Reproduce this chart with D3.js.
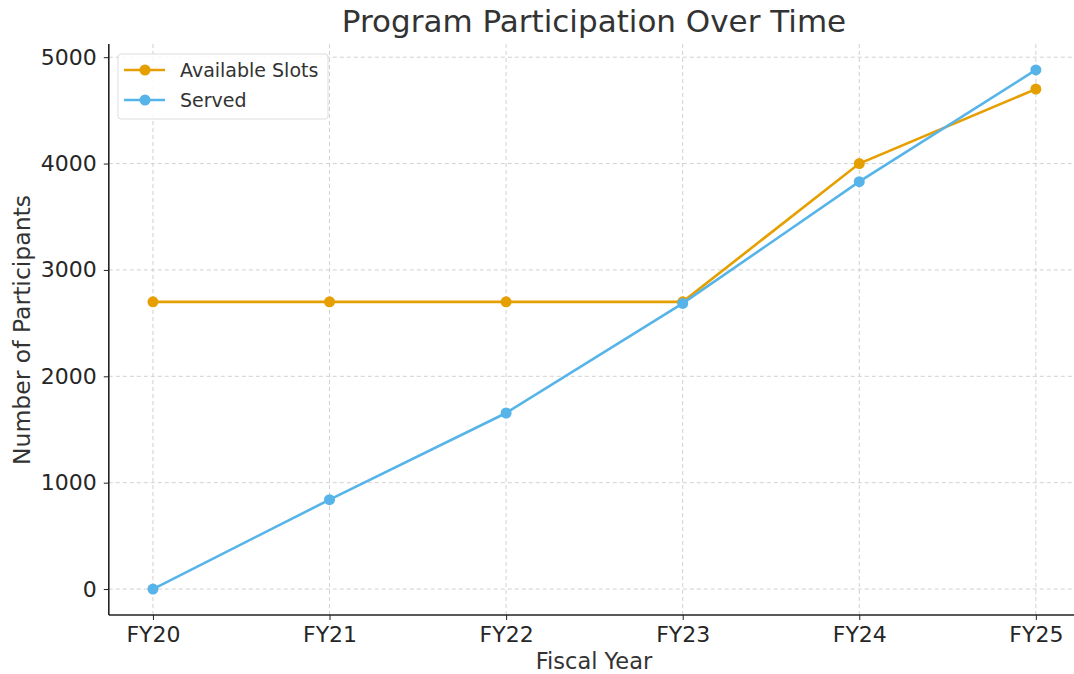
<!DOCTYPE html>
<html><head><meta charset="utf-8">
<script src="https://cdn.jsdelivr.net/npm/d3@7/dist/d3.min.js"></script>
<style>body{margin:0;background:#fff;}svg{display:block;font-family:"DejaVu Sans",sans-serif;}</style>
</head><body>
<script>
const categories = ["FY20","FY21","FY22","FY23","FY24","FY25"];
const availableSlots = [2700,2700,2700,2700,4000,4700];
const served = [0,840,1655,2685,3830,4880];
const yTicks = [0,1000,2000,3000,4000,5000];
const seriesNames = ["Available Slots","Served"];
const colors = ["#E69F00","#56B4E9"];

const W=1074,H=674;
const svg=d3.select("body").append("svg").attr("width",W).attr("height",H);
const pLeft=108.8, pRight=1080, pTop=44, pBottom=615;
const x=d3.scaleLinear().domain([-0.25,5.25]).range([pLeft,pRight]);
const y=d3.scaleLinear().domain([-244,5124]).range([pBottom,pTop]);
const txt="#333";

// grid
const g=svg.append("g");
g.selectAll(".gx").data(categories).join("line")
 .attr("x1",(d,i)=>x(i)).attr("x2",(d,i)=>x(i)).attr("y1",pTop).attr("y2",pBottom)
 .attr("stroke","#cccccc").attr("stroke-dasharray","4,3").attr("stroke-width",0.9);
g.selectAll(".gy").data(yTicks).join("line")
 .attr("x1",pLeft).attr("x2",pRight).attr("y1",d=>y(d)).attr("y2",d=>y(d))
 .attr("stroke","#cccccc").attr("stroke-dasharray","4,3").attr("stroke-width",0.9);

// axes
const xAxis=d3.axisBottom(x).tickValues(d3.range(categories.length)).tickFormat(i=>categories[i]).tickSize(5).tickPadding(6);
const yAxis=d3.axisLeft(y).tickValues(yTicks).tickFormat(d3.format("d")).tickSize(5).tickPadding(7);
const xa=svg.append("g").attr("transform",`translate(0,${pBottom})`).call(xAxis);
const ya=svg.append("g").attr("transform",`translate(${pLeft},0)`).call(yAxis);
[xa,ya].forEach(a=>{
  a.attr("font-family",null).attr("font-size",null);
  a.select(".domain").attr("stroke","#222").attr("stroke-width",1.6);
  a.selectAll(".tick line").attr("stroke","#222").attr("stroke-width",1);
  a.selectAll(".tick text").attr("fill","#262626").style("font-size","22px").style("font-family","DejaVu Sans");
});
ya.select(".domain").attr("d",`M0,${pBottom}V${pTop}`);
xa.select(".domain").attr("d",`M${pLeft},0H${pRight}`);

// lines
const data=[availableSlots,served];
const line=d3.line().x((d,i)=>x(i)).y(d=>y(d));
data.forEach((s,k)=>{
  svg.append("path").datum(s).attr("d",line).attr("fill","none").attr("stroke",colors[k]).attr("stroke-width",2.6);
  svg.selectAll(".pt"+k).data(s).join("circle").attr("cx",(d,i)=>x(i)).attr("cy",d=>y(d)).attr("r",5.5).attr("fill",colors[k]);
});

// title & labels
svg.append("text").attr("x",594).attr("y",32).attr("text-anchor","middle").attr("fill",txt).style("font-size","31px").text("Program Participation Over Time");
svg.append("text").attr("x",594).attr("y",669).attr("text-anchor","middle").attr("fill",txt).style("font-size","22.5px").text("Fiscal Year");
svg.append("text").attr("transform","translate(30,330) rotate(-90)").attr("text-anchor","middle").attr("fill",txt).style("font-size","23.5px").text("Number of Participants");

// legend
const lg=svg.append("g");
lg.append("rect").attr("x",118).attr("y",54).attr("width",210).attr("height",65).attr("rx",3).attr("fill","#fff").attr("fill-opacity",0.85).attr("stroke","#ddd").attr("stroke-width",1);
seriesNames.forEach((n,k)=>{
  const yy=70+k*30;
  lg.append("line").attr("x1",124).attr("x2",165).attr("y1",yy).attr("y2",yy).attr("stroke",colors[k]).attr("stroke-width",2.6);
  lg.append("circle").attr("cx",145).attr("cy",yy).attr("r",5.5).attr("fill",colors[k]);
  lg.append("text").attr("x",180).attr("y",yy+7).attr("fill",txt).style("font-size","19px").text(n);
});
</script>
</body></html>
